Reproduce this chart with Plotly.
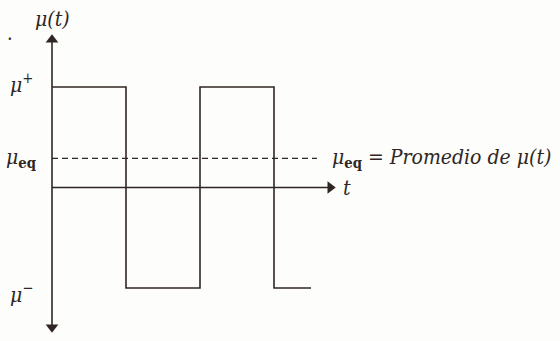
import plotly.graph_objects as go

# Square-wave control signal mu(t) and its average
t_edges = [0.0, 1.0, 1.0, 2.0, 2.0, 3.0, 3.0, 3.5]
mu_levels = [1.0, 1.0, -1.0, -1.0, 1.0, 1.0, -1.0, -1.0]
mu_plus = 1.0
mu_minus = -1.0
mu_eq = 0.29
t_axis_end = 3.82
mu_axis_top = 1.52
mu_axis_bottom = -1.44
dash_end = 3.58

ink = "#2f2623"
font_fam = "DejaVu Serif Condensed"

fig = go.Figure()

fig.add_trace(go.Scatter(x=t_edges, y=mu_levels, mode="lines",
                         line=dict(color=ink, width=1.6), hoverinfo="skip"))

# mean level, dashed
fig.add_trace(go.Scatter(x=[0.0, dash_end], y=[mu_eq, mu_eq], mode="lines",
                         line=dict(color=ink, width=1.4, dash="6px,4px"),
                         hoverinfo="skip"))

# time axis and mu axis
fig.add_trace(go.Scatter(x=[0.0, t_axis_end - 0.08], y=[0.0, 0.0], mode="lines",
                         line=dict(color=ink, width=1.6), hoverinfo="skip"))
fig.add_trace(go.Scatter(x=[0.0, 0.0], y=[mu_axis_bottom + 0.06, mu_axis_top - 0.06],
                         mode="lines", line=dict(color=ink, width=1.6),
                         hoverinfo="skip"))
# arrowheads
fig.add_trace(go.Scatter(x=[t_axis_end - 0.06, 0.0, 0.0],
                         y=[0.0, mu_axis_top - 0.05, mu_axis_bottom + 0.05],
                         mode="markers",
                         marker=dict(symbol=["triangle-right", "triangle-up",
                                             "triangle-down"],
                                     size=11, color=ink, line=dict(width=0)),
                         hoverinfo="skip"))

txt = dict(showarrow=False, font=dict(family=font_fam, size=21, color=ink))
fig.add_annotation(x=0.0, y=1.68, text="<i>μ(t)</i>", **txt)
fig.add_annotation(x=-0.41, y=mu_plus + 0.04, text="<i>μ</i><sup>+</sup>", **txt)
fig.add_annotation(x=-0.41, y=mu_minus - 0.05, text="<i>μ</i><sup>−</sup>", **txt)
fig.add_annotation(x=-0.42, y=mu_eq, text="<i>μ</i><sub><b>eq</b></sub>", **txt)
fig.add_annotation(x=3.98, y=0.0, text="<i>t</i>", **txt)
fig.add_annotation(x=3.75, y=mu_eq, xanchor="left",
                   text="<i>μ</i><sub><b>eq</b></sub> = <i>Promedio de μ(t)</i>", **txt)
fig.add_annotation(x=-0.57, y=1.48, text="·", showarrow=False,
                   font=dict(family=font_fam, size=20, color=ink))

fig.update_layout(
    width=560, height=341,
    margin=dict(l=0, r=0, t=0, b=0),
    paper_bgcolor="#fdfdfb", plot_bgcolor="#fdfdfb",
    showlegend=False,
    xaxis=dict(range=[-52 / 74, 508 / 74], visible=False, fixedrange=True),
    yaxis=dict(range=[-1.5274, 1.8657], visible=False, fixedrange=True),
)

fig.write_html("out.html")
